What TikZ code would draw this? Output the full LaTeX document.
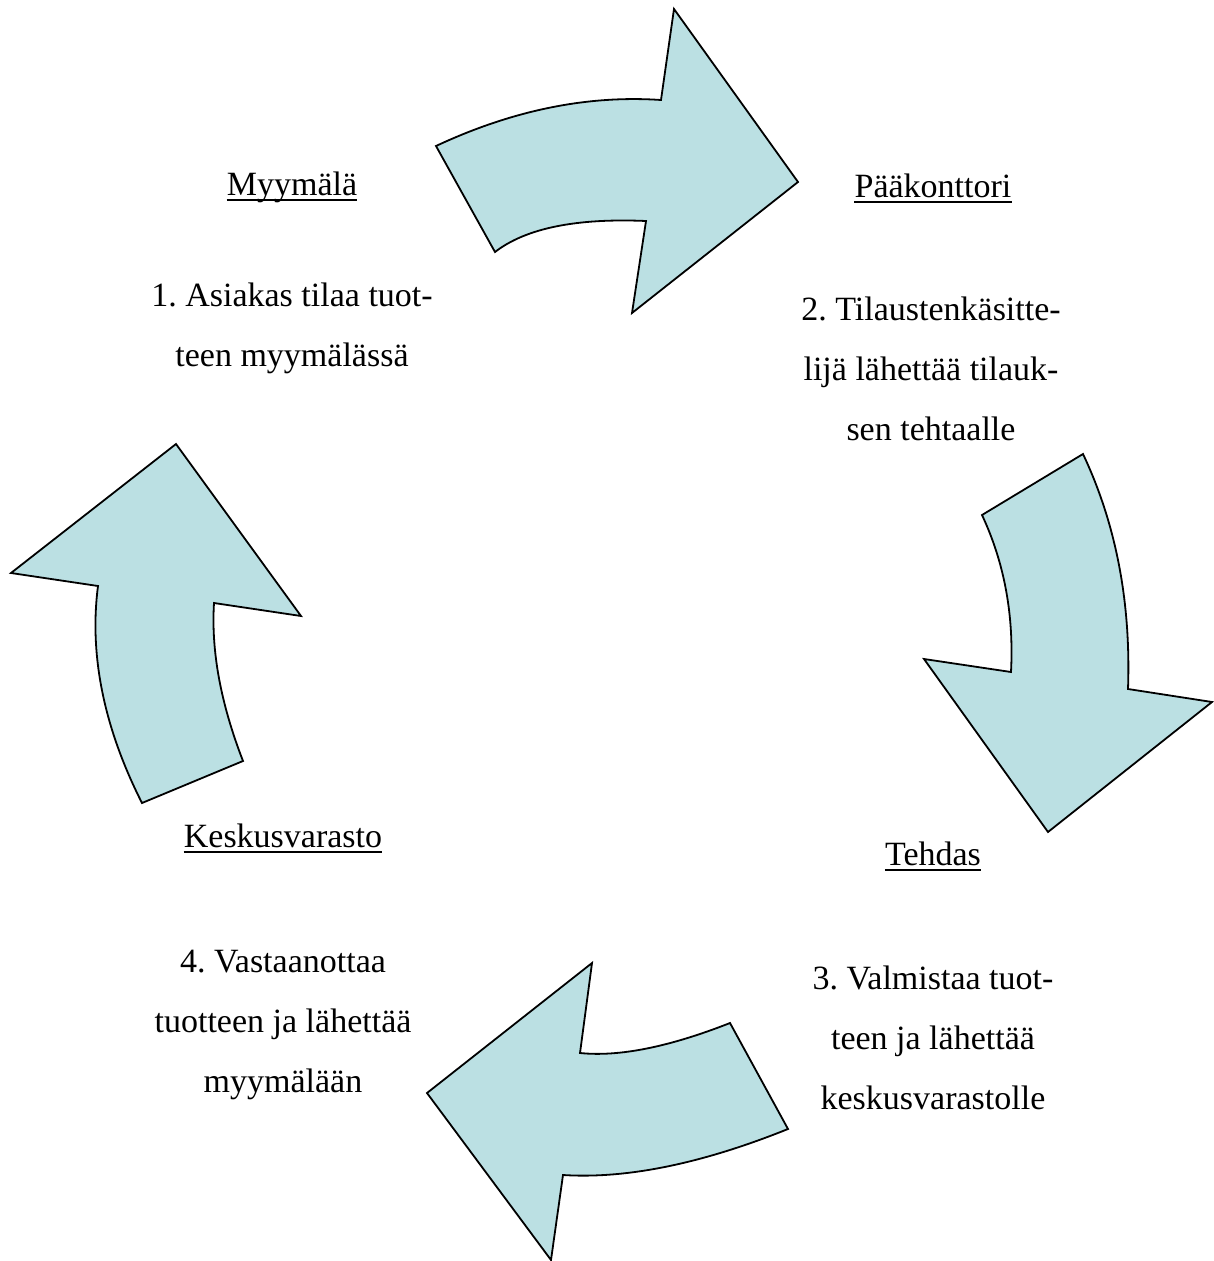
\documentclass[tikz,border=0pt]{standalone}
\usepackage{fontspec}
\setmainfont{Liberation Serif}
\definecolor{arrowfill}{HTML}{BBE0E3}
\begin{document}
\begin{tikzpicture}[x=1pt,y=-1pt,
  flow/.style={fill=arrowfill, draw=black, line width=1.8pt, line join=miter},
  place/.style={font=\fontsize{34}{60}\selectfont, inner sep=0pt, anchor=base},
  desc/.style={font=\fontsize{34}{60}\selectfont\frenchspacing, align=center, inner sep=0pt, anchor=base},
  uline/.style={line width=2pt}]
\useasboundingbox (0,0) rectangle (1213,1261);

% curved block arrows, clockwise cycle
\draw[flow] (436,146) .. controls (513,110) and (588,95) .. (661,100)
  -- (674,9) -- (798,182) -- (632,313) -- (646,221)
  .. controls (577,218) and (526,228) .. (495,252) -- cycle;
\draw[flow] (1083,454) -- (982,515) .. controls (1004,562) and (1014,614) .. (1011,672)
  -- (924,659) -- (1048,832) -- (1212,702) -- (1128,689)
  .. controls (1131,602) and (1116,524) .. (1083,454) -- cycle;
\draw[flow] (730,1023) .. controls (669,1047) and (619,1057) .. (580,1053)
  -- (592,963) -- (427,1093) -- (551,1260) -- (563,1175)
  .. controls (626,1179) and (701,1164) .. (788,1129) -- cycle;
\draw[flow] (176,444) -- (301,616) -- (214,603)
  .. controls (211,652) and (221,704) .. (243,761) -- (142,803)
  .. controls (104,728) and (89,655) .. (98,586) -- (11,573) -- cycle;

% place names
\node[place] (myymala) at (292,195) {Myymälä};
\node[place] (paakonttori) at (933,197) {Pääkonttori};
\node[place] (tehdas) at (933,865) {Tehdas};
\node[place] (keskus) at (283,847) {Keskusvarasto};
\foreach \n in {myymala,paakonttori,tehdas,keskus}
  \draw[uline] ([yshift=-5pt]\n.base west) -- ([yshift=-5pt]\n.base east);

% step descriptions (anchored at the baseline of the last line)
\node[desc] (step1) at (292,366) {1. Asiakas tilaa tuot-\\teen myymälässä};
\node[desc] (step2) at (931,440) {2. Tilaustenkäsitte-\\lijä lähettää tilauk-\\sen tehtaalle};
\node[desc] (step3) at (933,1109) {3. Valmistaa tuot-\\teen ja lähettää\\keskusvarastolle};
\node[desc] (step4) at (283,1092) {4. Vastaanottaa\\tuotteen ja lähettää\\myymälään};
\end{tikzpicture}
\end{document}
